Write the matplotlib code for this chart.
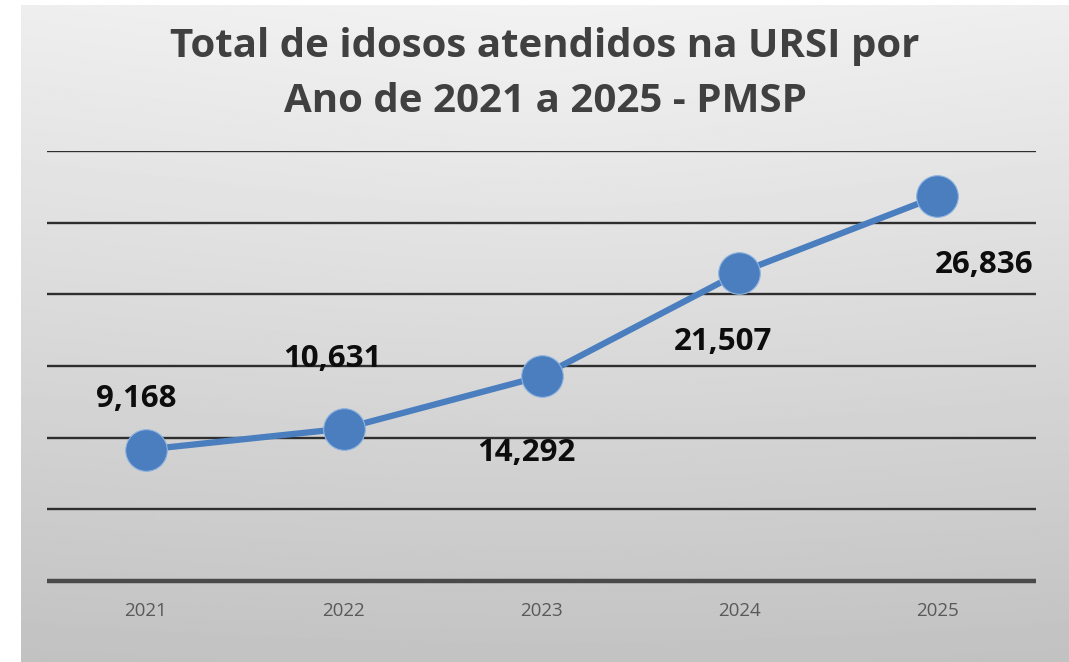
import numpy as np
import matplotlib
matplotlib.use("Agg")
import matplotlib.pyplot as plt

years = ["2021", "2022", "2023", "2024", "2025"]
values = [9168, 10631, 14292, 21507, 26836]
labels = ["9,168", "10,631", "14,292", "21,507", "26,836"]
label_offsets_px = [(-10, 51), (-11, 70), (-15, -77), (-16, -69), (47, -69)]
title = "Total de idosos atendidos na URSI por\nAno de 2021 a 2025 - PMSP"

W, H = 1069, 662
fig = plt.figure(figsize=(W / 100, H / 100), dpi=100)
fig.patch.set_facecolor("white")

# background gradient panel
bg = fig.add_axes([21 / W, 0, 1 - 21 / W, 1 - 5 / H])
yy, xx = np.mgrid[0:1:300j, 0:1:300j]
vert = 0.95 - 0.165 * yy
rad = np.sqrt(((xx - 0.5) / 0.9) ** 2 + ((yy - 0.1) / 1.3) ** 2)
img = vert - 0.03 * rad
bg.imshow(img, aspect="auto", extent=[0, 1, 0, 1], cmap="gray", vmin=0, vmax=1,
          origin="upper", interpolation="bilinear")
bg.set_axis_off()
bg.set_zorder(-1)

ax = fig.add_axes([47 / W, (H - 581) / H, 989 / W, 430 / H])
ax.set_facecolor("none")
x = np.arange(len(years))
ax.plot(x, values, color="#4a7ebf", lw=4.5, marker="o", markersize=30,
        markerfacecolor="#4a7ebf", markeredgecolor="#8fb4e0", markeredgewidth=0.8,
        zorder=3, solid_capstyle="round")
ax.set_xlim(-0.5, 4.5)
ax.set_ylim(0, 30000)
ax.set_yticks(range(0, 30001, 5000))
ax.set_yticklabels([])
ax.tick_params(axis="y", length=0)
ax.grid(axis="y", color="#2e2e2e", lw=1.7, zorder=1)
ax.set_axisbelow(True)
for s in ["top", "right", "left"]:
    ax.spines[s].set_visible(False)
ax.spines["bottom"].set_color("#4a4a4a")
ax.spines["bottom"].set_linewidth(3.2)
ax.spines["bottom"].set_capstyle("butt")
ax.set_xticks(x)
ax.set_xticklabels(years, fontsize=13.5, color="#595959", family="Open Sans")
ax.tick_params(axis="x", length=0, pad=15)

for xi, v, lab, (dx, dy) in zip(x, values, labels, label_offsets_px):
    ax.annotate(lab, (xi, v), xytext=(dx, dy), textcoords="offset pixels",
                ha="center", va="center", fontsize=22.5, fontweight="bold",
                color="#0d0d0d", family="Open Sans", zorder=4)

fig.text(545 / W, 1 - 74 / H, title, ha="center", va="center", fontsize=29,
         fontweight="bold", color="#404040", family="Open Sans", linespacing=1.55)

fig.savefig("out.png", dpi=100)
